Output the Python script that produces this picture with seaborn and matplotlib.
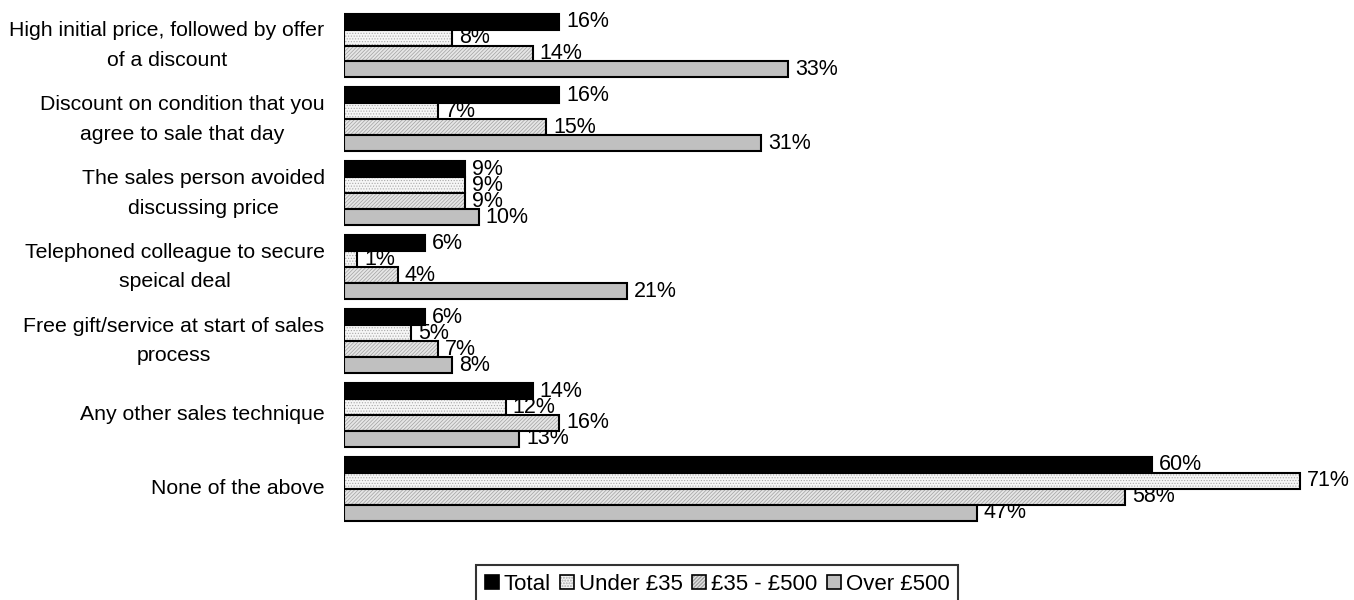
import matplotlib
matplotlib.use("Agg")
import matplotlib.pyplot as plt
import matplotlib.patches as mpatches
import seaborn as sns
import pandas as pd

sns.set_style("white")
plt.rcParams["font.family"] = ["Liberation Sans", "DejaVu Sans"]
plt.rcParams["text.color"] = "black"
plt.rcParams["ytick.color"] = "black"
plt.rcParams["ytick.labelcolor"] = "black"

categories = [
    "High initial price, followed by offer\nof a discount",
    "Discount on condition that you\nagree to sale that day",
    "The sales person avoided\ndiscussing price",
    "Telephoned colleague to secure\nspeical deal",
    "Free gift/service at start of sales\nprocess",
    "Any other sales technique",
    "None of the above",
]
segments = ["Total", "Under £35", "£35 - £500", "Over £500"]
total = [16, 16, 9, 6, 6, 14, 60]
under_35 = [8, 7, 9, 1, 5, 12, 71]
mid_35_500 = [14, 15, 9, 4, 7, 16, 58]
over_500 = [33, 31, 10, 21, 8, 13, 47]

series = [total, under_35, mid_35_500, over_500]
df = pd.DataFrame(
    [(c, s, v[i]) for s, v in zip(segments, series) for i, c in enumerate(categories)],
    columns=["category", "segment", "value"],
)

face_colors = ["#000000", "#f6f6f6", "#e6e6e6", "#c0c0c0"]
hatches = [None, "......", "/////////", None]
hatch_colors = [None, "#a8a8a8", "#a0a0a0", None]


def apply_hatch(patch, htch, hc):
    if not htch:
        return
    patch.set_hatch(htch)
    if hasattr(patch, "set_hatchcolor"):
        patch.set_hatchcolor(hc)
    else:
        patch._hatch_color = matplotlib.colors.to_rgba(hc)
    if hasattr(patch, "set_hatch_linewidth"):
        patch.set_hatch_linewidth(0.5)


fig = plt.figure(figsize=(13.54, 6.0), dpi=100)
ax = fig.add_axes([344 / 1354, 65 / 600, (1354 - 344) / 1354, 535 / 600])

sns.barplot(
    data=df, y="category", x="value", hue="segment", orient="h",
    order=categories, hue_order=segments, palette=face_colors,
    width=0.865, edgecolor="black", linewidth=1.5, saturation=1,
    legend=False, ax=ax, zorder=2,
)

for cont, htch, hc in zip(ax.containers, hatches, hatch_colors):
    for p in cont:
        apply_hatch(p, htch, hc)

for cont, vals in zip(ax.containers, series):
    texts = ax.bar_label(cont, labels=[f"{v}%" for v in vals], padding=5,
                         fontsize=15.5, color="black")
    for t in texts:
        t.set_zorder(1)

ax.set_xlim(0, 75)
ax.set_ylim(6.624, -0.616)
ax.set_xlabel("")
ax.set_ylabel("")
ax.set_xticks([])
ax.tick_params(axis="y", length=0, pad=14, labelsize=15.3, labelcolor="black")
for lbl in ax.get_yticklabels():
    lbl.set_multialignment("center")
    lbl.set_linespacing(1.7)
    lbl.set_verticalalignment("center")
    lbl.set_color("black")
sns.despine(ax=ax, left=True, bottom=True)

handles = []
for fc, htch, hc in zip(face_colors, hatches, hatch_colors):
    h = mpatches.Patch(facecolor=fc, edgecolor="black", linewidth=1.2)
    apply_hatch(h, htch, hc)
    handles.append(h)

leg = fig.legend(
    handles, segments, loc="upper center", bbox_to_anchor=(717 / 1354, 1 - 565 / 600),
    ncol=4, frameon=True, fancybox=False, fontsize=16,
    handlelength=0.63, handleheight=0.63, handletextpad=0.22, columnspacing=0.42,
    borderpad=0.4, borderaxespad=0,
)
leg.get_frame().set_edgecolor("black")
leg.get_frame().set_linewidth(1.5)

fig.savefig("out.png", dpi=100)
